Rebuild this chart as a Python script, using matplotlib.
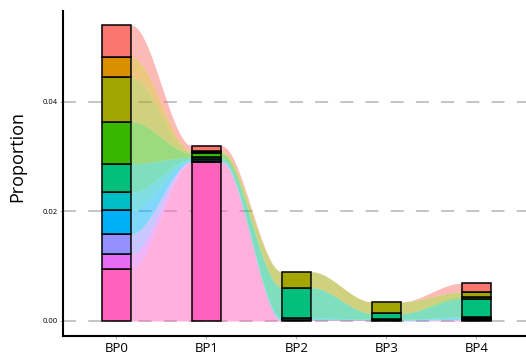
import numpy as np
import matplotlib
matplotlib.use("Agg")
import matplotlib.pyplot as plt

plt.rcParams['font.family'] = ['Open Sans', 'DejaVu Sans']

# columns and groups (bottom to top in each stack)
bps = ["BP0", "BP1", "BP2", "BP3", "BP4"]
groups = ["G10", "G9", "G8", "G7", "G6", "G5", "G4", "G3", "G2", "G1"]
colors = ["#FF62BC", "#E76BF3", "#9590FF", "#00B0F6", "#00BFC4",
          "#00BF7D", "#39B600", "#A3A500", "#D89000", "#F8766D"]

# proportion per group, one list per column (same order as groups)
bp0 = [0.0095, 0.0027, 0.0037, 0.0044, 0.0032, 0.0052, 0.0077, 0.0081, 0.0037, 0.0058]
bp1 = [0.0290, 0.00005, 0.00005, 0.0002, 0.0002, 0.0004, 0.0007, 0.0003, 0.0002, 0.0009]
bp2 = [0.0001, 0.0, 0.0, 0.0001, 0.0004, 0.0055, 0.0, 0.0029, 0.0, 0.0]
bp3 = [0.0001, 0.0, 0.0, 0.0001, 0.0001, 0.0011, 0.0, 0.0021, 0.0, 0.0]
bp4 = [0.0002, 0.0, 0.0001, 0.0002, 0.0002, 0.0033, 0.0004, 0.0009, 0.0, 0.0016]

vals = np.array([bp0, bp1, bp2, bp3, bp4])
tops = np.cumsum(vals, axis=1)
bots = tops - vals

fig = plt.figure(figsize=(5.26, 3.58), dpi=100)
ax = fig.add_axes([63/526, 22/358, 463/526, 325/358])
w = 0.33

# gridlines
for g in [0.0, 0.02, 0.04]:
    ax.axhline(g, color="#b4b4b4", lw=1.1, ls=(0, (8.5, 8)), zorder=0)

# flows
t = np.linspace(0, 1, 80)
s = 3*t**2 - 2*t**3
for i in range(len(bps)-1):
    xs = np.linspace(i + w/2, i + 1 - w/2, 80)
    for k in range(len(groups)):
        lo = bots[i, k] + (bots[i+1, k] - bots[i, k]) * s
        hi = tops[i, k] + (tops[i+1, k] - tops[i, k]) * s
        ax.fill_between(xs, lo, hi, color=colors[k], alpha=0.5, lw=0, zorder=1)

# stacked bars
for i in range(len(bps)):
    for k in range(len(groups)):
        if vals[i, k] > 0:
            ax.bar(i, vals[i, k], bottom=bots[i, k], width=w, color=colors[k],
                   edgecolor="black", linewidth=1.1, zorder=2)

ax.set_xlim(-0.594, 4.55)
ax.set_ylim(-0.00274, 0.0566)
ax.set_xticks(range(len(bps)))
ax.set_xticklabels(bps, fontsize=9.5)
ax.set_yticks([0.0, 0.02, 0.04])
ax.set_yticklabels(["0.00", "0.02", "0.04"], fontsize=5.5)
ax.tick_params(axis="both", length=2, color="#b4b4b4", width=0.8, pad=2)
ax.tick_params(axis="x", pad=2.5)
ax.set_ylabel("Proportion", fontsize=13)
ax.yaxis.set_label_coords(-0.079, 0.552)

for sp in ["top", "right"]:
    ax.spines[sp].set_visible(False)
for sp in ["left", "bottom"]:
    ax.spines[sp].set_linewidth(1.5)
    ax.spines[sp].set_color("black")

fig.savefig("out.png", dpi=100)
